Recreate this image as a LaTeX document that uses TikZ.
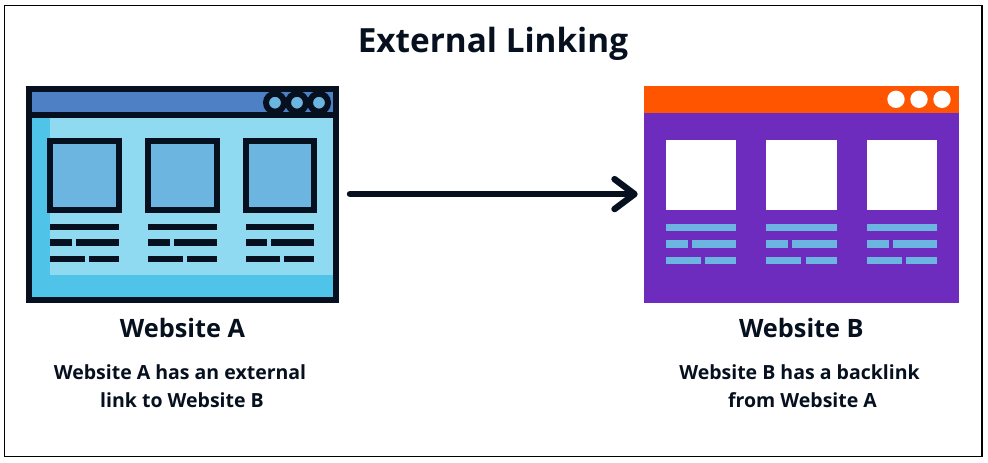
\documentclass[tikz,border=0pt]{standalone}
\usepackage{fontspec}
\setmainfont{Open Sans}
\usetikzlibrary{arrows.meta}

\definecolor{inkdark}{HTML}{06101E}
\definecolor{cyanside}{HTML}{4FC3E8}
\definecolor{cyanbody}{HTML}{8FDAF1}
\definecolor{bluebar}{HTML}{4D80C4}
\definecolor{bluepane}{HTML}{6BB5E0}
\definecolor{orangebar}{HTML}{FF5500}
\definecolor{purplebody}{HTML}{6E2CBF}

\tikzstyle{winA} = [rectangle, draw=inkdark, fill=cyanside, line width=6pt, minimum width=307pt, minimum height=211pt, outer sep=3pt, inner sep=0pt]
\tikzstyle{winB} = [rectangle, fill=purplebody, minimum width=315.3pt, minimum height=217.2pt, outer sep=0pt, inner sep=0pt]
\tikzstyle{heading} = [font=\bfseries\fontsize{25.3}{30}\selectfont, text=inkdark, inner sep=0pt]
\tikzstyle{blurb} = [font=\bfseries\fontsize{19.5}{27.5}\selectfont, text=inkdark, align=center, inner sep=0pt]
\tikzstyle{link} = [-{Straight Barb[length=20pt,width=30pt,round]}, draw=inkdark, line width=6.4pt, line cap=round]

\begin{document}
\begin{tikzpicture}[x=1pt,y=-1pt,node distance=134pt]
\useasboundingbox (0,0) rectangle (988,463);
\draw[black, line width=1.2pt] (4.5,5.5) rectangle (982,456.5);

\node[heading, font=\bfseries\fontsize{33.3}{40}\selectfont] (title) at (493,44) {External Linking};

\node[winA] (websiteA) at (182.5,194.1) {};
\node[winB] (websiteB) [right of=websiteA, xshift=484.85pt] {};

% website A
\fill[cyanbody] (50,118) rectangle (333,275);
\fill[bluebar] (32,91.5) rectangle (333,112);
\fill[inkdark] (32,112) rectangle (333,118);
\foreach \cx in {275,297,319}
  \draw[inkdark, fill=bluepane, line width=6pt] (\cx,102.7) circle (9pt);
\foreach \dx in {0,97.7,195.4} {
  \draw[inkdark, fill=bluepane, line width=6pt] (50.3+\dx,141) rectangle (119+\dx,210);
  \fill[inkdark] (50.3+\dx,223.7) rectangle (119+\dx,230);
  \fill[inkdark] (50.3+\dx,239.3) rectangle (72+\dx,245.7);
  \fill[inkdark] (76+\dx,239.3) rectangle (119+\dx,245.7);
  \fill[inkdark] (50.3+\dx,255.7) rectangle (85+\dx,262);
  \fill[inkdark] (89+\dx,255.7) rectangle (119+\dx,262);
}

% website B
\fill[orangebar] (643.7,85.5) rectangle (959,113.3);
\foreach \cx in {896,919,942}
  \fill[white] (\cx,99.3) circle (8.7pt);
\foreach \dx in {0,100.4,201} {
  \fill[white] (665.7+\dx,139.7) rectangle (736.3+\dx,210.3);
  \fill[bluepane] (665.7+\dx,223.7) rectangle (736.3+\dx,231.3);
  \fill[bluepane] (665.7+\dx,240.3) rectangle (688+\dx,247.7);
  \fill[bluepane] (692+\dx,240.3) rectangle (736.3+\dx,247.7);
  \fill[bluepane] (665.7+\dx,257) rectangle (701+\dx,264.3);
  \fill[bluepane] (705.3+\dx,257) rectangle (736.3+\dx,264.3);
}

\draw[link, shorten <=11pt, shorten >=6pt] (websiteA) -- (websiteB);

\node[heading] (nameA) [below of=websiteA] {Website A};
\node[heading] (nameB) [below of=websiteB] {Website B};
\node[blurb] (blurbA) at (180,386) {Website A has an external\\\hspace*{4pt}link to Website B};
\node[blurb] (blurbB) at (799.5,386) {Website B has a backlink\\\hspace*{6pt}from Website A};

\end{tikzpicture}
\end{document}
